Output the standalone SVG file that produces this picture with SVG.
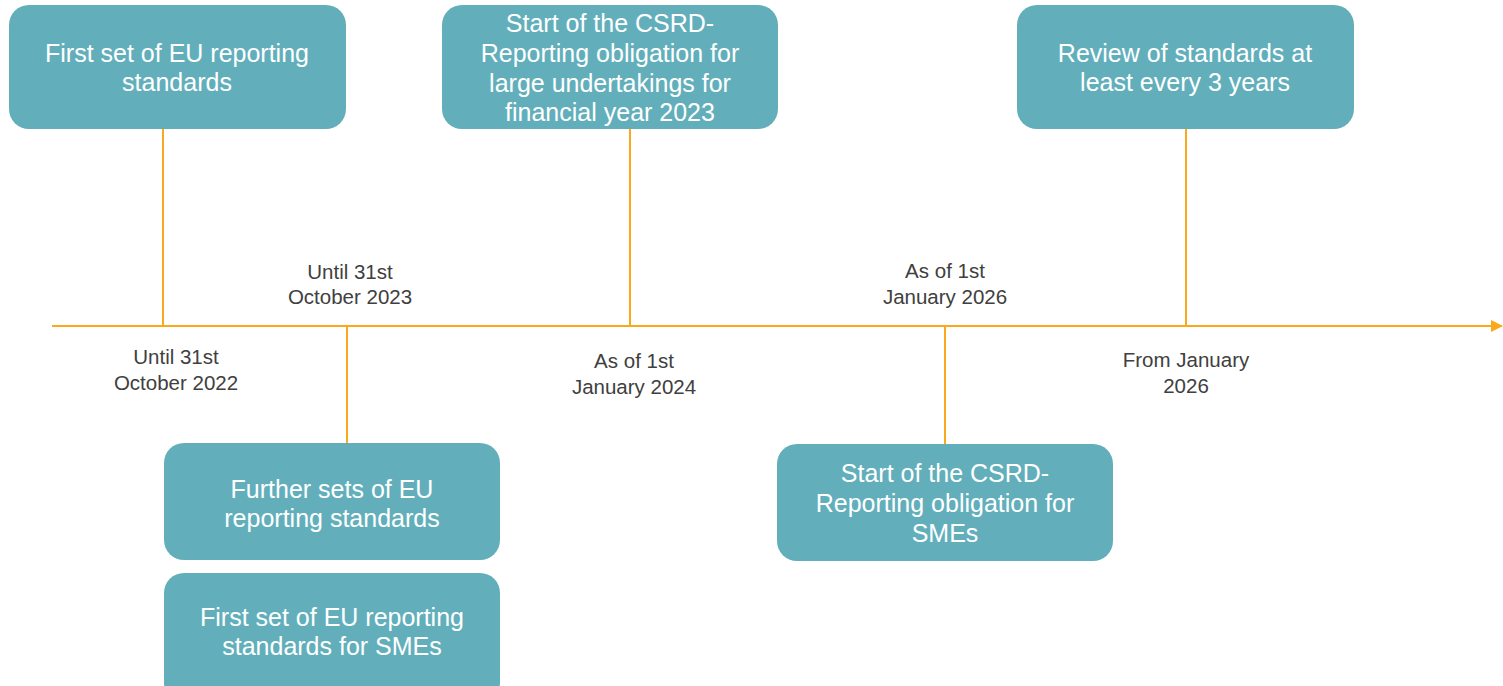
<svg xmlns="http://www.w3.org/2000/svg" width="1503" height="686" viewBox="0 0 1503 686">
<defs>
<style>
.box{fill:#62AFBB;}
.bt{font-family:"Liberation Sans",Arial,sans-serif;font-size:25px;fill:#FFFFFF;text-anchor:middle;}
.lt{font-family:"Liberation Sans",Arial,sans-serif;font-size:20.5px;fill:#404040;text-anchor:middle;}
.ln{stroke:#F9A91B;stroke-width:2;fill:none;}
</style>
<marker id="ah" markerWidth="12" markerHeight="12" refX="11" refY="6" orient="auto" markerUnits="userSpaceOnUse">
<path d="M0,0 L12,6 L0,12 Z" fill="#F9A91B"/>
</marker>
</defs>
<rect width="1503" height="686" fill="#FFFFFF"/>
<g id="connectors">
<line class="ln" x1="52" y1="326" x2="1502" y2="326" marker-end="url(#ah)"/>
<line class="ln" x1="163" y1="129" x2="163" y2="326"/>
<line class="ln" x1="347" y1="326" x2="347" y2="443"/>
<line class="ln" x1="630" y1="129" x2="630" y2="326"/>
<line class="ln" x1="945" y1="326" x2="945" y2="444"/>
<line class="ln" x1="1186" y1="129" x2="1186" y2="326"/>
</g>
<g id="node1">
<rect class="box" x="9" y="5" width="337" height="124" rx="20"/>
<text class="bt" x="177" y="62">First set of EU reporting</text>
<text class="bt" x="177" y="91">standards</text>
</g>
<g id="node2">
<rect class="box" x="442" y="5" width="336" height="124" rx="20"/>
<text class="bt" x="610" y="32">Start of the CSRD-</text>
<text class="bt" x="610" y="62">Reporting obligation for</text>
<text class="bt" x="610" y="92">large undertakings for</text>
<text class="bt" x="610" y="121">financial year 2023</text>
</g>
<g id="node3">
<rect class="box" x="1017" y="5" width="337" height="124" rx="20"/>
<text class="bt" x="1185" y="62">Review of standards at</text>
<text class="bt" x="1185" y="91">least every 3 years</text>
</g>
<g id="node4">
<rect class="box" x="164" y="443" width="336" height="117" rx="20"/>
<text class="bt" x="332" y="498">Further sets of EU</text>
<text class="bt" x="332" y="527">reporting standards</text>
</g>
<g id="node5">
<rect class="box" x="164" y="573" width="336" height="130" rx="20"/>
<text class="bt" x="332" y="626">First set of EU reporting</text>
<text class="bt" x="332" y="655">standards for SMEs</text>
</g>
<g id="node6">
<rect class="box" x="777" y="444" width="336" height="117" rx="20"/>
<text class="bt" x="945" y="482">Start of the CSRD-</text>
<text class="bt" x="945" y="512">Reporting obligation for</text>
<text class="bt" x="945" y="542">SMEs</text>
</g>
<g id="label1">
<text class="lt" x="176" y="364">Until 31st</text>
<text class="lt" x="176" y="390">October 2022</text>
</g>
<g id="label2">
<text class="lt" x="350" y="279">Until 31st</text>
<text class="lt" x="350" y="304">October 2023</text>
</g>
<g id="label3">
<text class="lt" x="634" y="368">As of 1st</text>
<text class="lt" x="634" y="394">January 2024</text>
</g>
<g id="label4">
<text class="lt" x="945" y="278">As of 1st</text>
<text class="lt" x="945" y="304">January 2026</text>
</g>
<g id="label5">
<text class="lt" x="1186" y="367">From January</text>
<text class="lt" x="1186" y="393">2026</text>
</g>
</svg>
